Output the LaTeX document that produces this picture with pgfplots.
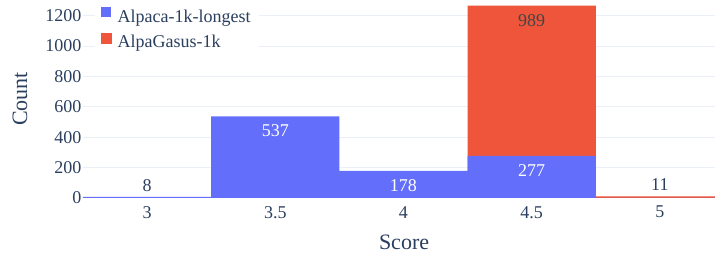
\documentclass[border=0pt]{standalone}
\usepackage{pgfplots}
\pgfplotsset{compat=1.18}
\usepackage{pgfplotstable}
\usepackage{fontspec}
\setmainfont{Liberation Serif}
\definecolor{txt}{HTML}{2A3F5F}
\definecolor{pblue}{HTML}{636EFA}
\definecolor{pred}{HTML}{EF553B}
\definecolor{gridc}{HTML}{EBF0F8}
\definecolor{darklab}{HTML}{444444}
\newcommand{\fsz}{\rmfamily\fontsize{18}{21.6}\selectfont}
\newcommand{\flz}{\rmfamily\fontsize{22}{26}\selectfont}

\pgfplotstableread{
x alpaca alpagasus
0 8 0
1 537 0
2 178 0
3 277 989
4 0 11
}\scores

\begin{document}
\begin{tikzpicture}
\begin{axis}[
 scale only axis, width=632pt, height=198pt,
 xmin=-0.5, xmax=4.43, ymin=0, ymax=1303.5,
 xtick={0,1,2,3,4}, xticklabels={3,3.5,4,4.5,5},
 ytick={0,200,...,1200},
 major tick length=0pt,
 axis line style={draw=none},
 ymajorgrids, major grid style={gridc, line width=1pt},
 /pgf/number format/assume math mode=true,
 /pgf/number format/1000 sep={},
 tick label style={font=\fsz, text=txt},
 yticklabel style={anchor=east, inner sep=0pt, xshift=-1.5pt},
 xticklabel style={anchor=north, inner sep=0pt, yshift=-8pt},
 xlabel={Score}, ylabel={Count},
 label style={font=\flz, text=txt},
 xlabel style={at={(axis description cs:0.508,-0.222)}, anchor=center},
 ylabel style={at={(axis description cs:-0.0997,0.5)}, anchor=center},
 legend style={at={(axis description cs:0.019,0.985)}, anchor=north west, draw=none, fill=white,
   font=\fsz, text=txt, row sep=7pt, inner ysep=4pt, inner xsep=6pt},
 legend cell align=left,
]
% red (stacked on top of blue) drawn first, behind
\addplot[ybar, bar width=1, bar shift=0pt, fill=pred, draw=none, forget plot,
  skip coords between index={0}{3}]
  table[x=x, y expr=\thisrow{alpaca}+\thisrow{alpagasus}] {\scores};
\addplot[ybar, bar width=1, bar shift=0pt, fill=pblue, draw=none,
  legend image code/.code={\fill[pblue] (0pt,-0.5pt) rectangle (10pt,9.5pt); \path (14pt,0pt);}]
  table[x=x, y=alpaca] {\scores};
\addlegendentry{Alpaca-1k-longest}
\addlegendimage{legend image code/.code={\fill[pred] (0pt,-0.5pt) rectangle (10pt,9.5pt); \path (14pt,0pt);}}
\addlegendentry{AlpaGasus-1k}
% labels inside blue bars (white)
\addplot[draw=none, mark=none, forget plot, nodes near coords, point meta=explicit symbolic,
  nodes near coords style={font=\fsz, text=white, anchor=center, inner sep=0pt, yshift=-14.5pt},
  skip coords between index={0}{1}, skip coords between index={4}{5}]
  table[x=x, y=alpaca, meta=alpaca] {\scores};
% label inside red bar
\addplot[draw=none, mark=none, forget plot, nodes near coords, point meta=explicit symbolic,
  nodes near coords style={font=\fsz, text=darklab, anchor=center, inner sep=0pt, yshift=-14.5pt},
  skip coords between index={0}{3}, skip coords between index={4}{5}]
  table[x=x, y expr=\thisrow{alpaca}+\thisrow{alpagasus}, meta=alpagasus] {\scores};
% labels outside small bars
\addplot[draw=none, mark=none, forget plot, nodes near coords, point meta=explicit symbolic,
  nodes near coords style={font=\fsz, text=txt, anchor=center, inner sep=0pt, yshift=11.5pt}]
  coordinates {(0,8) [8] (4,11) [11]};
\end{axis}
\pgfresetboundingbox
\path[use as bounding box] (-83pt,-56pt) rectangle (632pt,198pt);
\end{tikzpicture}
\end{document}
